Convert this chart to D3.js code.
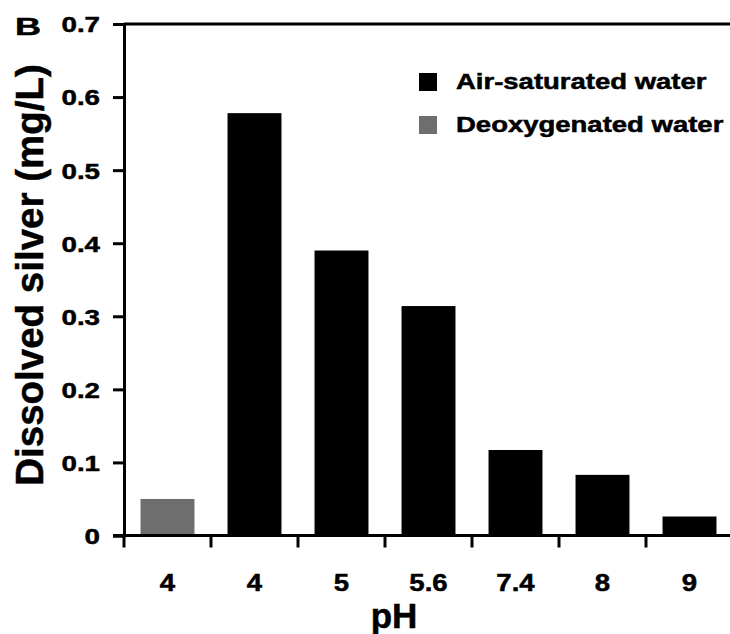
<!DOCTYPE html>
<html>
<head>
<meta charset="utf-8">
<script src="https://cdn.jsdelivr.net/npm/d3@7"></script>
<style>
  html, body { margin: 0; padding: 0; background: #fff; }
  svg { display: block; }
  text { font-family: "Liberation Sans", Arial, Helvetica, sans-serif; font-weight: bold; fill: #000;
         stroke: #000; stroke-width: 0.5px; }
</style>
</head>
<body>
<svg id="chart" width="730" height="634"></svg>
<script>
// pH of each test solution, left to right
const phLabels = ["4", "4", "5", "5.6", "7.4", "8", "9"];
// which water condition each bar belongs to
const conditions = ["Deoxygenated water", "Air-saturated water", "Air-saturated water",
  "Air-saturated water", "Air-saturated water", "Air-saturated water", "Air-saturated water"];
// dissolved silver concentration (mg/L)
const silver = [0.05, 0.578, 0.39, 0.314, 0.117, 0.083, 0.026];
// legend entries and y-axis ticks
const legendItems = ["Air-saturated water", "Deoxygenated water"];
const yTicks = [0, 0.1, 0.2, 0.3, 0.4, 0.5, 0.6, 0.7];

const colors = { "Air-saturated water": "#000000", "Deoxygenated water": "#6e6e6e" };

const svg = d3.select("#chart");
const plotLeft = 124, plotRight = 733, plotTop = 24, plotBottom = 535.5;

const x = d3.scaleBand()
  .domain(d3.range(phLabels.length))
  .range([plotLeft, plotRight])
  .paddingInner(0.38)
  .paddingOuter(0.19);

const y = d3.scaleLinear().domain([0, 0.7]).range([plotBottom, plotTop]);

// bars
svg.append("g").selectAll("rect")
  .data(silver)
  .join("rect")
  .attr("x", (d, i) => x(i))
  .attr("width", x.bandwidth())
  .attr("y", d => y(d))
  .attr("height", d => y(0) - y(d))
  .attr("fill", (d, i) => colors[conditions[i]]);

// y axis
const yAxis = svg.append("g")
  .attr("transform", `translate(${plotLeft},0)`)
  .call(d3.axisLeft(y).tickValues(yTicks).tickSize(11).tickPadding(13)
    .tickFormat(d => d === 0 ? "0" : d3.format(".1f")(d)));
yAxis.select(".domain").attr("stroke", "#000").attr("stroke-width", 3);
yAxis.selectAll(".tick line").attr("stroke", "#000").attr("stroke-width", 3);
yAxis.selectAll(".tick text")
  .attr("font-size", 22)
  .attr("x", null)
  .attr("dy", "0.36em")
  .attr("transform", "translate(-24,0) scale(1.26,1)");
yAxis.attr("font-family", null).attr("font-size", null);

// frame top edge and right edge
svg.append("line")
  .attr("x1", plotLeft).attr("x2", plotRight)
  .attr("y1", y(0.7)).attr("y2", y(0.7))
  .attr("stroke", "#000").attr("stroke-width", 3);
svg.append("line")
  .attr("x1", plotRight).attr("x2", plotRight)
  .attr("y1", y(0.7)).attr("y2", y(0))
  .attr("stroke", "#000").attr("stroke-width", 3);

// x axis: category labels centred on bars
const xAxis = svg.append("g")
  .attr("transform", `translate(0,${y(0)})`)
  .call(d3.axisBottom(x).tickSize(0).tickPadding(0).tickFormat(i => phLabels[i]));
xAxis.select(".domain").remove();
xAxis.selectAll(".tick text")
  .attr("font-size", 24)
  .attr("y", null)
  .attr("dy", null)
  .attr("transform", "translate(0,55.5) scale(1.15,1)");
xAxis.attr("font-family", null).attr("font-size", null);

// x axis line and tick marks at category boundaries
const bounds = d3.range(phLabels.length + 1).map(i => plotLeft + i * x.step());
svg.append("line")
  .attr("x1", plotLeft - 11).attr("x2", plotRight)
  .attr("y1", y(0)).attr("y2", y(0))
  .attr("stroke", "#000").attr("stroke-width", 3);
svg.append("g").selectAll("line")
  .data(bounds)
  .join("line")
  .attr("x1", d => d).attr("x2", d => d)
  .attr("y1", y(0)).attr("y2", y(0) + 12)
  .attr("stroke", "#000").attr("stroke-width", 3);

// axis titles
svg.append("text")
  .attr("x", 394).attr("y", 628)
  .attr("text-anchor", "middle")
  .attr("font-size", 35)
  .text("pH");
svg.append("text")
  .attr("transform", "translate(43,275) rotate(-90)")
  .attr("text-anchor", "middle")
  .attr("font-size", 38.5)
  .text("Dissolved silver (mg/L)");

// panel letter
svg.append("text")
  .attr("transform", "translate(15,35) scale(1.5,1)")
  .attr("font-size", 24)
  .text("B");

// legend
const legend = svg.append("g").selectAll("g")
  .data(legendItems)
  .join("g")
  .attr("transform", (d, i) => `translate(419,${73 + i * 43})`);
legend.append("rect")
  .attr("width", 18).attr("height", 18)
  .attr("fill", d => colors[d])
  .attr("stroke", "none");
legend.append("text")
  .attr("transform", "translate(37,16) scale(1.25,1)")
  .attr("font-size", 22)
  .text(d => d);
</script>
</body>
</html>
